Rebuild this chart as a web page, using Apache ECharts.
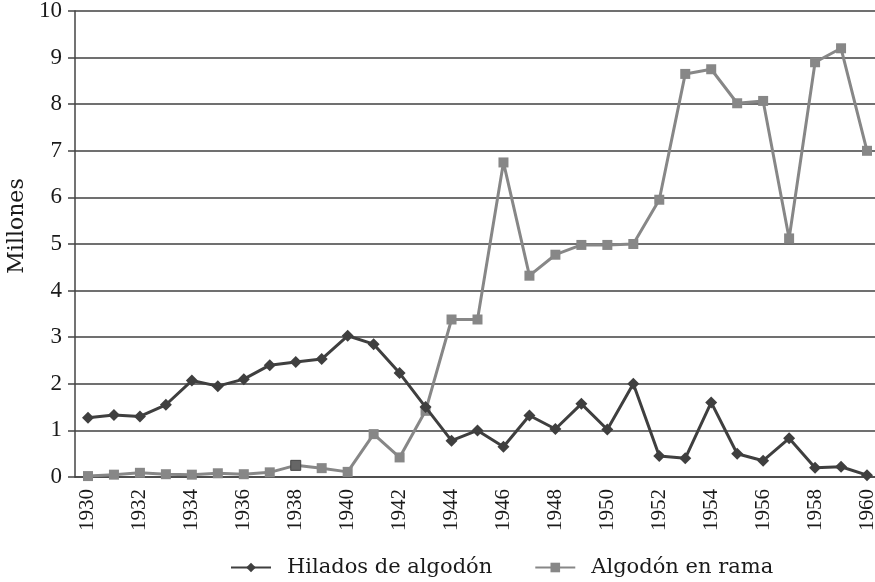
<!DOCTYPE html>
<html><head><meta charset="utf-8">
<script src="https://cdn.jsdelivr.net/npm/echarts@6/dist/echarts.min.js"></script>
<style>html,body{margin:0;padding:0;background:#fff}#c{width:875px;height:582px}</style>
</head><body><div id="c"></div>
<script>
const years = ['1930','1931','1932','1933','1934','1935','1936','1937','1938','1939','1940','1941','1942','1943','1944','1945','1946','1947','1948','1949','1950','1951','1952','1953','1954','1955','1956','1957','1958','1959','1960'];
const hilados = [1.27,1.33,1.3,1.55,2.07,1.95,2.1,2.4,2.47,2.53,3.03,2.85,2.23,1.5,0.78,1.0,0.65,1.32,1.03,1.57,1.02,2.0,0.45,0.4,1.6,0.5,0.35,0.83,0.2,0.22,0.04];
const algodon = [0.02,0.05,0.09,0.06,0.05,0.08,0.06,0.1,0.25,0.19,0.11,0.92,0.42,1.42,3.38,3.38,6.75,4.32,4.77,4.98,4.98,5.0,5.95,8.65,8.75,8.02,8.07,5.12,8.9,9.2,7.0];
const seriesNames = ['Hilados de algodón','Algodón en rama'];
const yAxisName = 'Millones';
const F = 'Liberation Serif';
const F2 = 'DejaVu Serif';
const chart = echarts.init(document.getElementById('c'));
chart.setOption({
  animation:false,
  textStyle:{fontFamily:F},
  grid:{left:75,right:-5,top:11,bottom:105,containLabel:false,outerBoundsMode:'none'},
  legend:{top:552,left:225,itemWidth:40,itemHeight:12,itemGap:42,
    textStyle:{fontFamily:F2,fontSize:21,color:'#1a1a1a',padding:[0,0,0,11]},
    data:seriesNames},
  xAxis:{type:'category',data:years,boundaryGap:true,
    axisLine:{lineStyle:{color:'#444',width:1.5}},
    axisTick:{interval:0,length:6,lineStyle:{color:'#444',width:1.5}},
    axisLabel:{interval:1,rotate:90,fontFamily:F,fontSize:21,color:'#1a1a1a',margin:12}},
  yAxis:{type:'value',min:0,max:10,interval:1,name:yAxisName,nameLocation:'middle',nameGap:43,
    nameTextStyle:{fontFamily:F2,fontSize:22,color:'#1a1a1a',padding:[0,0,0,36]},
    axisLine:{show:true,lineStyle:{color:'#444',width:1.5}},
    axisTick:{show:true,length:7,lineStyle:{color:'#444',width:1.5}},
    axisLabel:{fontFamily:F,fontSize:23,color:'#1a1a1a',margin:13},
    splitLine:{lineStyle:{color:'#404040',width:1.5}}},
  series:[
    {name:seriesNames[0],type:'line',data:hilados,symbol:'diamond',symbolSize:12,
      lineStyle:{color:'#3f3f3f',width:3},itemStyle:{color:'#3f3f3f'},z:3},
    {name:seriesNames[1],type:'line',
      data:algodon.map((v,i)=> i===8 ? {value:v,itemStyle:{color:'#666',borderColor:'#444',borderWidth:1}} : v),
      symbol:'rect',symbolSize:10,
      lineStyle:{color:'#878787',width:3},itemStyle:{color:'#878787'},z:2}
  ]
});
</script></body></html>
